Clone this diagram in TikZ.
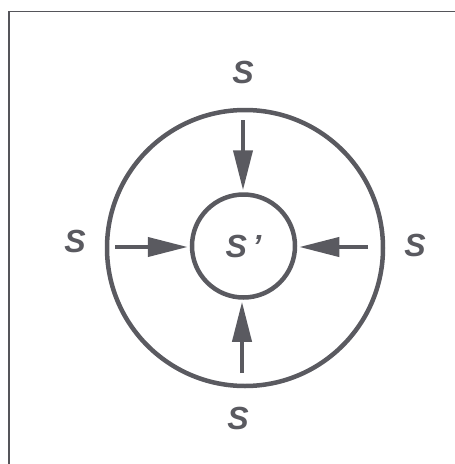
\documentclass[tikz,border=0pt]{standalone}
\usepackage{fontspec}
\setmainfont{Liberation Sans}
\usetikzlibrary{arrows.meta}
\definecolor{inkgrey}{HTML}{5A5A60}
\definecolor{framegrey}{HTML}{55555A}
\tikzset{
  ring/.style={circle, draw=inkgrey, line width=4.5pt, inner sep=0pt},
  pusharrow/.style={-{Triangle[length=40pt,width=19pt]}, line width=4pt, color=inkgrey, shorten >=2pt},
  letter/.style={font=\fontsize{32}{32}\selectfont\bfseries\itshape, text=inkgrey, inner sep=0pt},
}
\begin{document}
\begin{tikzpicture}[x=1pt,y=-1pt]
  \useasboundingbox (0,0) rectangle (455,464);
  % frame
  \draw[framegrey, line width=1.2pt] (9,464) -- (9,11.5) -- (455,11.5);

  \node[ring, minimum size=276pt] (outer) at (245,248) {};
  \node[ring, minimum size=103pt] (inner) at (243.5,246) {};
  \node[letter] (sin) at (inner.center) {S\,’};

  \node[letter] (stop) at (243,72) {S};
  \node[letter] (sleft) at (75,241) {S};
  \node[letter] (sright) at (415,245) {S};
  \node[letter] (sbottom) at (238,418) {S};

  \coordinate (atop) at (243,120);
  \coordinate (aleft) at (115,247);
  \coordinate (aright) at (368,247);
  \coordinate (abottom) at (242,373);

  \draw[pusharrow] (atop) -- (atop |- inner.north);
  \draw[pusharrow] (aleft) -- (aleft -| inner.west);
  \draw[pusharrow] (aright) -- (aright -| inner.east);
  \draw[pusharrow] (abottom) -- (abottom |- inner.south);
\end{tikzpicture}
\end{document}
